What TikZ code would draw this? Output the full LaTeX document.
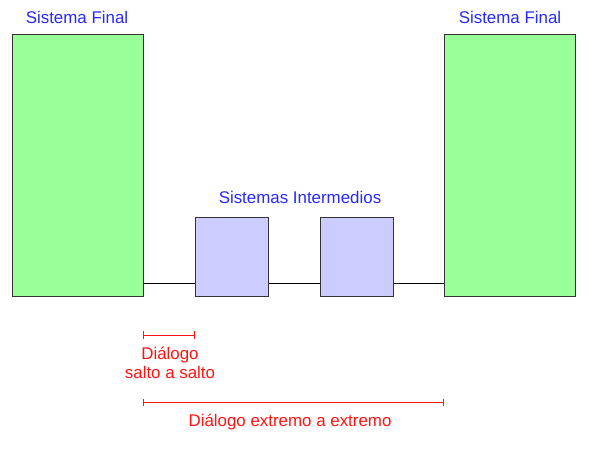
\documentclass[tikz,border=0pt]{standalone}
\usepackage{fontspec}
\setmainfont{Liberation Sans}
\definecolor{gfill}{RGB}{153,255,153}
\definecolor{pfill}{RGB}{204,204,255}
\definecolor{btext}{RGB}{40,40,255}
\definecolor{rtext}{RGB}{255,20,20}
\tikzset{
  endsys/.style={draw=black!80, line width=1.2pt, fill=gfill, minimum width=131pt, minimum height=262pt, inner sep=0pt, anchor=north west},
  midsys/.style={draw=black!80, line width=1.2pt, fill=pfill, minimum width=73pt, minimum height=79pt, inner sep=0pt, anchor=north west},
  blab/.style={text=btext, font=\fontsize{16.9}{19}\selectfont, inner sep=0pt},
  rlab/.style={text=rtext, font=\fontsize{16.9}{19}\selectfont, inner sep=0pt, align=center},
  rline/.style={draw=rtext, line width=0.9pt, {Bar[width=7pt]}-{Bar[width=7pt]}},
}
\usetikzlibrary{arrows.meta}
\begin{document}
\begin{tikzpicture}[x=1pt,y=-1pt]
\useasboundingbox (0,0) rectangle (589,462);
\node[endsys] (A) at (12,34) {};
\node[endsys] (B) at (444,34) {};
\node[midsys] (C) at (195,217) {};
\node[midsys] (D) at (320,217) {};
\draw[black, line width=0.9pt] (A.east |- 0,283) -- (C.west |- 0,283);
\draw[black, line width=0.9pt] (C.east |- 0,283) -- (D.west |- 0,283);
\draw[black, line width=0.9pt] (D.east |- 0,283) -- (B.west |- 0,283);
\node[blab] (tA) at (77,17) {Sistema Final};
\node[blab] (tB) at (510,17) {Sistema Final};
\node[blab] (tC) at (300,197) {Sistemas Intermedios};
\coordinate (s1) at (143,335);
\coordinate (s2) at (195,335);
\draw[rline] (s1) -- (s2);
\node[rlab] (ts) at (170,363) {Diálogo\\salto a salto};
\coordinate (e1) at (143,402);
\coordinate (e2) at (444,402);
\draw[rline] (e1) -- (e2);
\node[rlab] (te) at (290,422) {Diálogo extremo a extremo};
\end{tikzpicture}
\end{document}
